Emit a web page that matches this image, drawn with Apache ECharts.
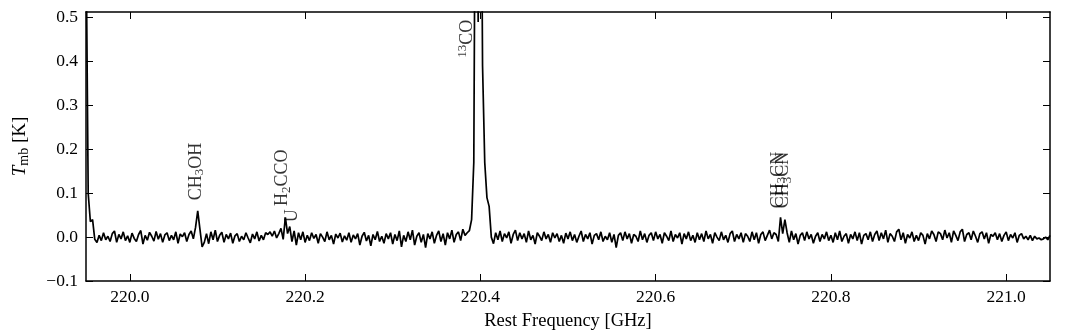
<!DOCTYPE html>
<html>
<head>
<meta charset="utf-8">
<script src="https://cdn.jsdelivr.net/npm/echarts@6/dist/echarts.min.js"></script>
<style>
html,body{margin:0;padding:0;background:#fff;}
#chart{width:1072px;height:331px;}
</style>
</head>
<body>
<div id="chart"></div>
<script>
// Spectrum: channel frequencies start at freqStart (GHz), spaced by chanWidth
const freqStart = 219.95;
const chanWidth = 0.0025;
const tmb = [
0.70, 0.10, 0.035, 0.040, -0.005, -0.012, 0.004, -0.008, 0.010, -0.006, 0.002, -0.010, 0.008, 0.014, -0.012, 0.006, -0.004, 0.012, -0.008, 0.003,
-0.012, 0.009, -0.003, -0.010, 0.006, 0.015, -0.016, 0.004, -0.007, 0.011, 0.002, -0.009, 0.013, -0.005, 0.008, -0.012, 0.005, 0.010, -0.008, 0.004,
-0.006, 0.012, -0.014, 0.007, 0.001, 0.010, -0.010, 0.006, 0.014, -0.004, 0.022, 0.060, 0.018, -0.022, -0.012, 0.008, -0.015, 0.012, -0.006, 0.016,
-0.010, 0.004, 0.011, -0.012, 0.006, -0.004, 0.009, -0.014, 0.003, 0.008, -0.010, 0.002, -0.006, 0.010, -0.002, -0.013, 0.007, -0.004, 0.012, -0.009,
0.004, -0.006, 0.010, 0.006, 0.012, 0.002, 0.014, -0.002, 0.008, 0.020, -0.005, 0.045, 0.008, 0.024, -0.010, 0.014, -0.018, 0.010, -0.006, 0.012,
-0.012, 0.004, -0.008, 0.010, -0.003, 0.006, -0.014, 0.008, 0.000, -0.010, 0.012, -0.006, 0.004, -0.016, 0.007, -0.002, 0.009, -0.011, 0.003, -0.007,
0.010, -0.012, 0.005, -0.004, 0.008, -0.018, 0.002, 0.011, -0.009, 0.004, -0.020, 0.006, -0.006, 0.013, -0.010, 0.002, -0.014, 0.008, -0.004, 0.010,
-0.016, 0.006, -0.008, 0.014, -0.022, 0.004, -0.010, 0.012, -0.006, 0.016, -0.018, 0.002, 0.010, -0.012, 0.006, -0.024, 0.008, -0.004, 0.012, -0.014,
0.004, 0.014, -0.010, 0.008, -0.018, 0.010, -0.004, 0.016, -0.012, 0.006, 0.012, -0.008, 0.018, 0.004, 0.010, 0.015, 0.040, 0.170, 1.20, 0.49,
1.20, 0.39, 0.17, 0.09, 0.07, 0.000, -0.015, 0.010, -0.006, 0.014, -0.010, 0.008, -0.002, 0.012, -0.014, 0.006, 0.016, -0.008, 0.010, -0.004,
0.008, -0.012, 0.014, -0.006, 0.004, -0.016, 0.010, 0.002, -0.008, 0.012, -0.004, 0.006, -0.012, 0.010, -0.002, 0.008, -0.010, 0.004, -0.014, 0.009,
-0.004, 0.012, -0.008, 0.006, -0.012, 0.002, 0.014, -0.010, 0.006, -0.004, 0.010, -0.016, 0.004, 0.008, -0.006, 0.012, -0.010, 0.002, -0.006, 0.010,
-0.012, 0.006, -0.024, 0.004, 0.010, -0.008, 0.012, -0.004, 0.008, -0.014, 0.006, 0.002, -0.010, 0.014, -0.006, 0.008, -0.012, 0.004, 0.010, -0.008,
0.012, -0.004, 0.006, -0.014, 0.010, 0.002, -0.008, 0.014, -0.010, 0.006, -0.002, 0.010, -0.016, 0.008, -0.004, 0.012, -0.008, 0.004, -0.012, 0.010,
-0.006, 0.008, -0.010, 0.014, -0.004, 0.006, -0.014, 0.010, 0.000, -0.008, 0.012, -0.006, 0.004, -0.012, 0.008, 0.014, -0.010, 0.006, -0.004, 0.010,
-0.012, 0.008, 0.002, -0.010, 0.012, -0.006, 0.010, -0.014, 0.006, 0.012, -0.008, 0.004, 0.016, -0.004, 0.010, 0.006, -0.010, 0.045, 0.008, 0.040,
0.010, -0.012, 0.014, -0.006, 0.008, -0.016, 0.004, 0.010, -0.008, 0.012, -0.004, 0.006, -0.014, 0.002, 0.010, -0.010, 0.006, -0.004, 0.012, -0.008,
0.004, -0.012, 0.010, -0.006, 0.014, -0.010, 0.002, 0.008, -0.014, 0.006, -0.004, 0.012, -0.008, 0.010, -0.016, 0.004, 0.008, -0.006, 0.012, -0.010,
0.006, 0.014, -0.008, 0.010, -0.004, 0.016, -0.012, 0.008, 0.002, -0.010, 0.012, 0.018, -0.006, 0.010, -0.014, 0.006, -0.002, 0.012, -0.010, 0.004,
-0.008, 0.010, 0.004, -0.016, 0.008, -0.004, 0.014, 0.006, -0.010, 0.012, 0.008, -0.006, 0.016, -0.002, 0.010, -0.012, 0.014, 0.004, -0.008, 0.012,
0.018, -0.010, 0.006, 0.010, -0.006, 0.014, 0.002, -0.012, 0.008, 0.012, -0.004, 0.010, -0.014, 0.006, 0.002, 0.010, -0.006, 0.008, -0.010, 0.004,
0.012, -0.008, 0.006, -0.002, 0.010, -0.012, 0.004, 0.008, -0.004, 0.002, -0.006, 0.004, -0.008, 0.002, -0.004, -0.002, -0.006, -0.004, 0.000, -0.006, 0.004
];

// Line identifications (label text in rich-text markup, label frequency, label base value)
const lineLabels = ['CH{s|3}OH', 'H{s|2}CCO', 'U', '{p|13}CO', 'CH{s|3}CN', 'CH{s|3}CN'];
const lineFreqs  = [220.0755, 220.1742, 220.1857, 220.3845, 220.7395, 220.7455];
const lineBaseY  = [0.084, 0.071, 0.034, 0.409, 0.066, 0.066];

const xTicks = [220.0, 220.2, 220.4, 220.6, 220.8, 221.0];
const yTicks = [-0.1, 0.0, 0.1, 0.2, 0.3, 0.4, 0.5];
const xMin = 219.95, xMax = 221.05, yMin = -0.1, yMax = 0.513;

const FONT = 'Liberation Serif';
const spec = tmb.map((v, i) => [freqStart + i * chanWidth, v]);
const labelData = lineLabels.map((t, i) => [lineFreqs[i], lineBaseY[i], t]);

const richStyles = {
  s: {fontFamily: FONT, fontSize: 13, verticalAlign: 'bottom', lineHeight: 21, color: '#000'},
  p: {fontFamily: FONT, fontSize: 13, verticalAlign: 'top', lineHeight: 21, color: '#000'},
  i: {fontFamily: FONT, fontSize: 18, fontStyle: 'italic', lineHeight: 21, color: '#000'},
  n: {fontFamily: FONT, fontSize: 18, lineHeight: 21, color: '#000'}
};
const yNameRich = {
  s: {fontFamily: FONT, fontSize: 14, verticalAlign: 'bottom', lineHeight: 22, color: '#000'},
  i: {fontFamily: FONT, fontSize: 19, fontStyle: 'italic', lineHeight: 22, color: '#000'},
  n: {fontFamily: FONT, fontSize: 19, lineHeight: 22, color: '#000'}
};

const fmtY = v => (v < -1e-9 ? '\u2212' : '') + Math.abs(v).toFixed(1);
const axisLineStyle = {color: '#000', width: 1.5};
const tickStyle = {show: true, inside: true, length: 7, lineStyle: {color: '#000', width: 1}};

const chart = echarts.init(document.getElementById('chart'), null, {renderer: 'canvas'});
chart.setOption({
  animation: false,
  backgroundColor: '#fff',
  grid: {left: 86, right: 22, top: 12, bottom: 50, containLabel: false, outerBoundsMode: 'none'},
  xAxis: [
    {type: 'value', min: xMin, max: xMax, position: 'bottom',
     name: 'Rest Frequency [GHz]', nameLocation: 'middle', nameGap: 31,
     nameTextStyle: {fontFamily: FONT, fontSize: 18.5, color: '#000'},
     axisLine: {show: true, onZero: false, lineStyle: axisLineStyle},
     axisTick: Object.assign({customValues: xTicks}, tickStyle),
     axisLabel: {customValues: xTicks, formatter: v => v.toFixed(1), fontFamily: FONT, fontSize: 17.5, color: '#000', margin: 7},
     splitLine: {show: false}},
    {type: 'value', min: xMin, max: xMax, position: 'top',
     axisLine: {show: true, onZero: false, lineStyle: axisLineStyle},
     axisTick: Object.assign({customValues: xTicks}, tickStyle),
     axisLabel: {show: false}, splitLine: {show: false}}
  ],
  yAxis: [
    {type: 'value', min: yMin, max: yMax, position: 'left',
     name: '{i|T}{s|mb}{n| [K]}', nameLocation: 'middle', nameGap: 55, nameRotate: 90,
     nameTextStyle: {fontFamily: FONT, fontSize: 19, color: '#000', rich: yNameRich},
     axisLine: {show: true, onZero: false, lineStyle: axisLineStyle},
     axisTick: Object.assign({customValues: yTicks}, tickStyle),
     axisLabel: {customValues: yTicks, formatter: fmtY, fontFamily: FONT, fontSize: 17.5, color: '#000', margin: 8},
     splitLine: {show: false}},
    {type: 'value', min: yMin, max: yMax, position: 'right',
     axisLine: {show: true, onZero: false, lineStyle: axisLineStyle},
     axisTick: Object.assign({customValues: yTicks}, tickStyle),
     axisLabel: {show: false}, splitLine: {show: false}}
  ],
  series: [
    {type: 'line', data: spec, xAxisIndex: 0, yAxisIndex: 0, showSymbol: false, symbol: 'none',
     clip: true, lineStyle: {color: '#000', width: 1.7}, silent: true, z: 3},
    {type: 'scatter', data: labelData, xAxisIndex: 0, yAxisIndex: 0, symbolSize: 0, silent: true, z: 4,
     label: {show: true, formatter: p => '{n|' + p.data[2].replace(/\{([sp])\|([^}]*)\}/g, '}{$1|$2}{n|') + '}',
             position: [0, 0], align: 'left', verticalAlign: 'middle', rotate: 90,
             fontFamily: FONT, fontSize: 18, color: '#000', rich: richStyles}}
  ]
});
</script>
</body>
</html>
